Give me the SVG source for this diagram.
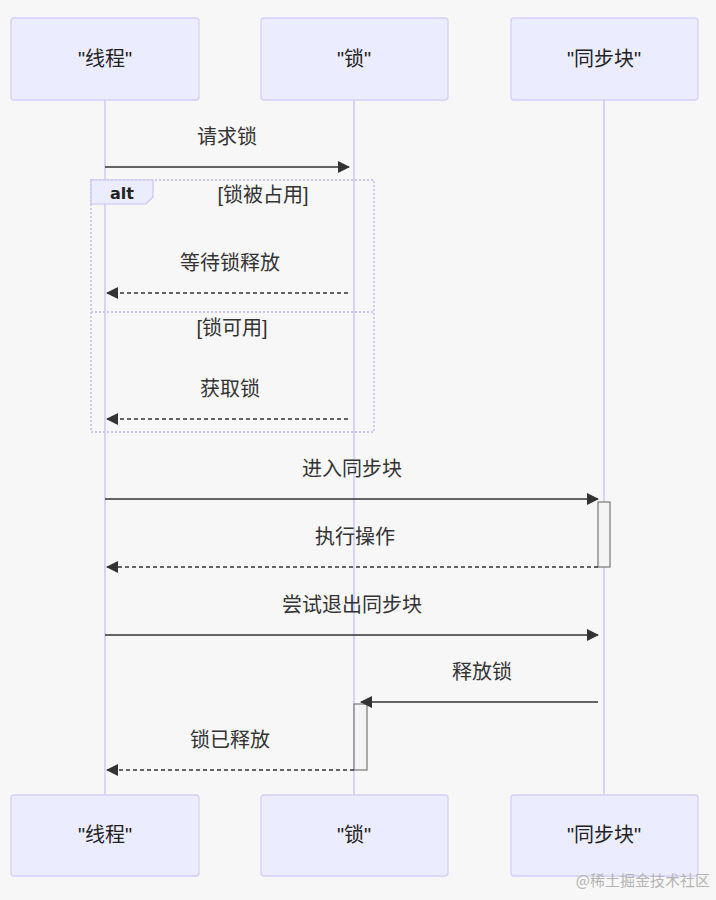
<svg xmlns="http://www.w3.org/2000/svg" width="716" height="900" viewBox="0 0 716 900">
<defs>
<style>
.actor{fill:#ECECFF;stroke:#d4d0f7;stroke-width:1.3}
.atext{font-family:"Liberation Sans","Noto Sans CJK SC",sans-serif;font-size:20px;fill:#222;text-anchor:middle;dominant-baseline:central}
.life{stroke:#d4d0f7;stroke-width:1.8}
.msg{font-family:"Liberation Sans","Noto Sans CJK SC",sans-serif;font-size:20px;fill:#333;text-anchor:middle;dominant-baseline:central}
.solid{stroke:#333;stroke-width:1.6;fill:none}
.dash{stroke:#333;stroke-width:1.6;fill:none;stroke-dasharray:4,3}
.act{fill:#f4f4f4;stroke:#777;stroke-width:1.2}
.frame{fill:none;stroke:#c8c4ee;stroke-width:1.8;stroke-dasharray:2,2}
</style>
<marker id="ah" viewBox="0 0 12 12" refX="11" refY="6" markerWidth="12" markerHeight="12" markerUnits="userSpaceOnUse" orient="auto">
<path d="M0,0 L12,6 L0,12 z" fill="#333"/>
</marker>
</defs>
<rect width="716" height="900" fill="#f7f7f7"/>
<g id="lifelines">
<line class="life" x1="105" y1="100" x2="105" y2="795"/>
<line class="life" x1="354" y1="100" x2="354" y2="795"/>
<line class="life" x1="604" y1="100" x2="604" y2="795"/>
</g>
<g id="actor-thread-top"><rect class="actor" x="11" y="18" width="188" height="82" rx="3"/><text class="atext" x="105" y="59">"线程"</text></g>
<g id="actor-lock-top"><rect class="actor" x="261" y="18" width="187" height="82" rx="3"/><text class="atext" x="354" y="59">"锁"</text></g>
<g id="actor-sync-top"><rect class="actor" x="511" y="18" width="187" height="82" rx="3"/><text class="atext" x="604" y="59">"同步块"</text></g>
<g id="actor-thread-bottom"><rect class="actor" x="11" y="795" width="188" height="81" rx="3"/><text class="atext" x="105" y="835">"线程"</text></g>
<g id="actor-lock-bottom"><rect class="actor" x="261" y="795" width="187" height="81" rx="3"/><text class="atext" x="354" y="835">"锁"</text></g>
<g id="actor-sync-bottom"><rect class="actor" x="511" y="795" width="187" height="81" rx="3"/><text class="atext" x="604" y="835">"同步块"</text></g>
<g id="alt-frame">
<rect class="frame" x="91" y="180" width="283" height="252"/>
<line class="frame" x1="91" y1="312" x2="374" y2="312"/>
<path d="M91,180 L153,180 L153,197 L146,204 L91,204 z" fill="#ECECFF" stroke="#c8c4ee" stroke-width="1.2"/>
<text x="122" y="193" font-family="'DejaVu Sans',sans-serif" font-size="16" font-weight="bold" fill="#222" text-anchor="middle" dominant-baseline="central">alt</text>
<text class="msg" x="263" y="195" fill="#222">[锁被占用]</text>
<text class="msg" x="232" y="328" fill="#222">[锁可用]</text>
</g>
<g id="activations">
<rect class="act" x="598" y="502" width="12" height="65"/>
<rect class="act" x="354" y="704" width="13" height="66"/>
</g>
<g id="connectors">
<line class="solid" x1="105" y1="167" x2="349" y2="167" marker-end="url(#ah)"/>
<line class="dash" x1="348" y1="293" x2="107" y2="293" marker-end="url(#ah)"/>
<line class="dash" x1="348" y1="419" x2="107" y2="419" marker-end="url(#ah)"/>
<line class="solid" x1="105" y1="499" x2="598" y2="499" marker-end="url(#ah)"/>
<line class="dash" x1="598" y1="567" x2="107" y2="567" marker-end="url(#ah)"/>
<line class="solid" x1="105" y1="635" x2="598" y2="635" marker-end="url(#ah)"/>
<line class="solid" x1="598" y1="702" x2="361" y2="702" marker-end="url(#ah)"/>
<line class="dash" x1="354" y1="770" x2="107" y2="770" marker-end="url(#ah)"/>
</g>
<g id="labels">
<text class="msg" x="227" y="137">请求锁</text>
<text class="msg" x="230" y="263">等待锁释放</text>
<text class="msg" x="230" y="389">获取锁</text>
<text class="msg" x="352" y="469">进入同步块</text>
<text class="msg" x="355" y="537">执行操作</text>
<text class="msg" x="352" y="605">尝试退出同步块</text>
<text class="msg" x="482" y="672">释放锁</text>
<text class="msg" x="230" y="740">锁已释放</text>
</g>
<text x="710" y="886" font-family="'Noto Sans CJK SC',sans-serif" font-size="15" fill="#b4b4b4" text-anchor="end">@稀土掘金技术社区</text>
</svg>
